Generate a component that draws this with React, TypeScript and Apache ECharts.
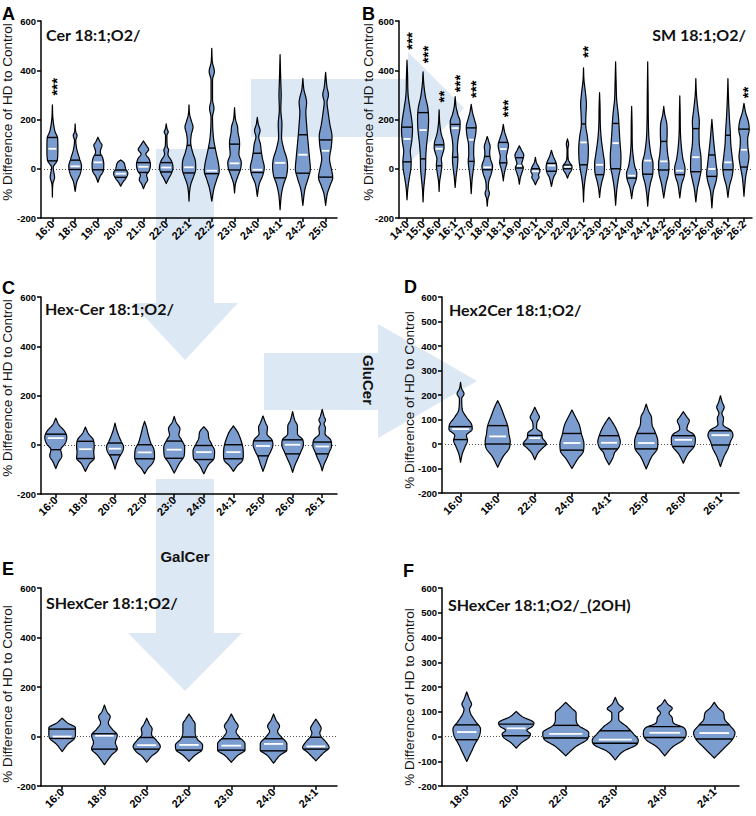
import React, { useEffect, useRef } from 'react';
import * as echarts from 'echarts';

type Violin = { span: number; q1: number | null; med: number; q3: number | null; shape: number[][] };
type Star = [string, string, number];

// ---------- Panel A: Cer 18:1;O2/ ----------
const cerCats = ['16:0', '18:0', '19:0', '20:0', '21:0', '22:0', '22:1', '22:2', '23:0', '24:0', '24:1', '24:2', '25:0'];
const cerViolins: Violin[] = [
  { span: 0.73, q1: 32, med: 81, q3: 127, shape: [[259, 0], [200, 0.12], [150, 0.5], [125, 0.95], [80, 1], [35, 0.9], [5, 0.15], [-35, 0.4], [-60, 0.1], [-115, 0]] },
  { span: 0.85, q1: -3, med: 10, q3: 35, shape: [[182, 0], [150, 0.1], [135, 0.3], [115, 0.1], [80, 0.25], [40, 0.7], [10, 1], [-20, 0.8], [-50, 0.3], [-92, 0]] },
  { span: 0.78, q1: -4, med: 26, q3: 55, shape: [[128, 0], [110, 0.35], [95, 0.7], [80, 0.5], [68, 0.4], [45, 0.8], [20, 1], [-10, 0.9], [-30, 0.4], [-55, 0]] },
  { span: 0.95, q1: -35, med: -20, q3: -5, shape: [[36, 0], [25, 0.45], [12, 0.6], [0, 0.7], [-18, 1], [-40, 0.7], [-55, 0.3], [-71, 0]] },
  { span: 0.93, q1: -15, med: 8, q3: 25, shape: [[113, 0], [95, 0.4], [78, 0.75], [60, 0.35], [40, 0.8], [15, 1], [-10, 0.8], [-25, 0.45], [-45, 0.6], [-60, 0.3], [-81, 0]] },
  { span: 0.9, q1: -13, med: 5, q3: 25, shape: [[182, 0], [160, 0.15], [150, 0.3], [135, 0.1], [90, 0.15], [77, 0.35], [60, 0.25], [30, 0.8], [5, 1], [-20, 0.75], [-40, 0.35], [-60, 0]] },
  { span: 0.9, q1: -17, med: 6, q3: 95, shape: [[259, 0], [220, 0.1], [190, 0.4], [170, 0.6], [140, 0.35], [110, 0.25], [70, 0.5], [30, 0.95], [0, 1], [-30, 0.7], [-60, 0.3], [-90, 0.1], [-132, 0]] },
  { span: 1, q1: -20, med: -8, q3: 84, shape: [[489, 0], [430, 0.1], [395, 0.35], [360, 0.1], [280, 0.1], [245, 0.3], [210, 0.1], [120, 0.25], [70, 0.55], [20, 0.9], [-10, 1], [-40, 0.7], [-80, 0.3], [-132, 0]] },
  { span: 0.9, q1: -5, med: 22, q3: 100, shape: [[248, 0], [200, 0.15], [170, 0.45], [150, 0.5], [120, 0.7], [100, 0.75], [60, 0.65], [25, 1], [0, 0.9], [-30, 0.5], [-60, 0.15], [-98, 0]] },
  { span: 0.93, q1: -15, med: -4, q3: 63, shape: [[209, 0], [180, 0.15], [155, 0.4], [130, 0.2], [100, 0.45], [75, 0.55], [40, 0.75], [5, 1], [-25, 0.8], [-60, 0.3], [-112, 0]] },
  { span: 1, q1: -37, med: 24, q3: null, shape: [[464, 0], [350, 0.1], [300, 0.15], [240, 0.1], [180, 0.25], [130, 0.2], [80, 0.5], [40, 0.9], [10, 1], [-30, 0.85], [-60, 0.5], [-100, 0.2], [-166, 0]] },
  { span: 1, q1: -18, med: 57, q3: 138, shape: [[367, 0], [320, 0.15], [290, 0.4], [270, 0.5], [230, 0.4], [180, 0.5], [140, 0.6], [90, 0.75], [40, 0.9], [0, 1], [-40, 0.7], [-80, 0.3], [-149, 0]] },
  { span: 0.95, q1: -34, med: 73, q3: 117, shape: [[391, 0], [330, 0.2], [300, 0.4], [270, 0.2], [230, 0.35], [180, 0.6], [130, 0.9], [90, 0.8], [40, 0.55], [0, 0.8], [-35, 1], [-70, 0.6], [-100, 0.25], [-149, 0]] },
];
const cerStars: Star[] = [['16:0', '***', 333]];

// ---------- Panel B: SM 18:1;O2/ ----------
const smCats = ['14:0', '15:0', '16:0', '16:1', '17:0', '18:0', '18:1', '19:0', '20:1', '21:0', '22:0', '22:1', '23:0', '23:1', '24:0', '24:1', '24:2', '25:0', '25:1', '26:0', '26:1', '26:2'];
const smViolins: Violin[] = [
  { span: 1, q1: 28, med: 121, q3: 169, shape: [[441, 0], [380, 0.1], [300, 0.2], [250, 0.5], [200, 0.85], [160, 1], [110, 0.85], [70, 0.6], [30, 0.75], [0, 0.7], [-40, 0.4], [-80, 0.15], [-126, 0]] },
  { span: 1, q1: 40, med: 157, q3: 228, shape: [[394, 0], [340, 0.15], [290, 0.45], [250, 0.85], [200, 1], [150, 0.9], [100, 0.65], [50, 0.5], [0, 0.45], [-40, 0.3], [-80, 0.12], [-135, 0]] },
  { span: 0.9, q1: 12, med: 81, q3: 97, shape: [[239, 0], [180, 0.15], [140, 0.45], [110, 0.9], [85, 1], [60, 0.7], [40, 0.45], [15, 0.55], [-20, 0.35], [-50, 0.12], [-92, 0]] },
  { span: 0.9, q1: 47, med: 165, q3: 180, shape: [[293, 0], [250, 0.2], [220, 0.55], [190, 1], [160, 0.95], [120, 0.6], [80, 0.45], [45, 0.55], [10, 0.45], [-30, 0.2], [-76, 0]] },
  { span: 0.9, q1: 30, med: 118, q3: 166, shape: [[262, 0], [230, 0.25], [200, 0.65], [170, 1], [140, 0.9], [100, 0.55], [60, 0.5], [30, 0.6], [0, 0.45], [-40, 0.2], [-101, 0]] },
  { span: 0.97, q1: -4, med: 6, q3: 50, shape: [[131, 0], [110, 0.3], [90, 0.55], [65, 0.45], [40, 0.6], [10, 1], [-20, 0.75], [-50, 0.3], [-80, 0.2], [-100, 0.4], [-120, 0.15], [-152, 0]] },
  { span: 0.94, q1: 24, med: 80, q3: 107, shape: [[180, 0], [150, 0.25], [120, 0.7], [95, 1], [70, 0.8], [50, 0.6], [25, 0.7], [0, 0.4], [-25, 0.15], [-49, 0]] },
  { span: 0.8, q1: 3, med: 12, q3: 45, shape: [[93, 0], [75, 0.5], [55, 1], [35, 0.75], [20, 0.55], [5, 0.9], [-15, 0.6], [-35, 0.25], [-63, 0]] },
  { span: 0.82, q1: null, med: -10, q3: 0, shape: [[46, 0], [25, 0.25], [5, 0.8], [-10, 1], [-25, 0.7], [-35, 0.8], [-45, 0.5], [-65, 0]] },
  { span: 0.97, q1: -10, med: 13, q3: 22, shape: [[75, 0], [50, 0.35], [25, 0.85], [5, 1], [-15, 0.85], [-35, 0.4], [-72, 0]] },
  { span: 0.82, q1: 0, med: 8, q3: 15, shape: [[121, 0], [100, 0.25], [80, 0.1], [40, 0.15], [25, 0.5], [10, 1], [-5, 0.9], [-20, 0.4], [-38, 0]] },
  { span: 0.88, q1: 16, med: 107, q3: 182, shape: [[410, 0], [360, 0.1], [300, 0.45], [260, 0.6], [220, 0.5], [180, 0.45], [130, 0.8], [80, 1], [30, 0.9], [0, 0.7], [-40, 0.35], [-80, 0.12], [-135, 0]] },
  { span: 0.9, q1: -24, med: 16, q3: null, shape: [[309, 0], [250, 0.1], [180, 0.15], [120, 0.35], [60, 0.75], [20, 1], [-20, 0.9], [-50, 0.5], [-80, 0.2], [-116, 0]] },
  { span: 0.97, q1: 0, med: 104, q3: 184, shape: [[434, 0], [350, 0.1], [280, 0.2], [230, 0.45], [190, 0.6], [150, 0.7], [100, 0.85], [50, 1], [10, 0.95], [-30, 0.6], [-80, 0.25], [-148, 0]] },
  { span: 0.94, q1: -38, med: -28, q3: null, shape: [[253, 0], [180, 0.08], [100, 0.12], [50, 0.3], [10, 0.6], [-20, 1], [-45, 0.85], [-75, 0.35], [-121, 0]] },
  { span: 0.97, q1: -22, med: 33, q3: null, shape: [[434, 0], [300, 0.08], [200, 0.12], [120, 0.25], [60, 0.6], [20, 1], [-20, 0.95], [-60, 0.5], [-100, 0.2], [-152, 0]] },
  { span: 0.95, q1: -5, med: 30, q3: 111, shape: [[253, 0], [220, 0.2], [180, 0.6], [140, 0.65], [110, 0.6], [60, 0.75], [20, 1], [-20, 0.9], [-60, 0.45], [-118, 0]] },
  { span: 0.95, q1: -24, med: -8, q3: null, shape: [[296, 0], [220, 0.08], [150, 0.12], [90, 0.3], [40, 0.6], [0, 1], [-30, 0.85], [-60, 0.4], [-118, 0]] },
  { span: 0.97, q1: -12, med: 47, q3: 163, shape: [[366, 0], [300, 0.12], [240, 0.4], [190, 0.65], [150, 0.6], [100, 0.65], [50, 0.95], [0, 1], [-40, 0.7], [-80, 0.3], [-135, 0]] },
  { span: 0.95, q1: -31, med: -1, q3: 56, shape: [[201, 0], [160, 0.15], [110, 0.35], [60, 0.6], [20, 0.8], [-20, 1], [-50, 0.8], [-90, 0.3], [-159, 0]] },
  { span: 0.95, q1: -4, med: 26, q3: 136, shape: [[366, 0], [280, 0.12], [200, 0.3], [150, 0.45], [100, 0.55], [50, 0.8], [10, 1], [-30, 0.8], [-70, 0.3], [-116, 0]] },
  { span: 0.95, q1: 7, med: 77, q3: 161, shape: [[266, 0], [230, 0.3], [190, 0.85], [160, 1], [120, 0.7], [90, 0.75], [50, 0.95], [10, 0.7], [-30, 0.35], [-70, 0.15], [-112, 0]] },
];
const smStars: Star[] = [['14:0', '***', 519], ['15:0', '***', 464], ['16:0', '**', 293], ['16:1', '***', 346], ['17:0', '***', 323], ['18:1', '***', 245], ['22:1', '**', 475], ['26:2', '**', 310]];

// ---------- Panel C: Hex-Cer 18:1;O2/ ----------
const hexCats = ['16:0', '18:0', '20:0', '22:0', '23:0', '24:0', '24:1', '25:0', '26:0', '26:1'];
const hexViolins: Violin[] = [
  { span: 1, q1: -20, med: 27, q3: 43, shape: [[108, 0], [80, 0.3], [55, 0.8], [30, 1], [5, 0.85], [-20, 0.45], [-45, 0.55], [-70, 0.25], [-97, 0]] },
  { span: 0.8, q1: -56, med: -18, q3: 14, shape: [[72, 0], [45, 0.35], [20, 0.9], [-10, 1], [-30, 0.95], [-55, 1], [-75, 0.5], [-108, 0]] },
  { span: 0.78, q1: -41, med: -16, q3: 7, shape: [[88, 0], [60, 0.2], [40, 0.4], [15, 0.7], [-10, 1], [-30, 0.85], [-50, 0.5], [-75, 0.2], [-99, 0]] },
  { span: 0.9, q1: -57, med: -31, q3: 0, shape: [[95, 0], [70, 0.2], [45, 0.35], [10, 0.6], [-20, 0.95], [-50, 1], [-75, 0.8], [-95, 0.35], [-118, 0]] },
  { span: 0.95, q1: -55, med: -20, q3: 15, shape: [[115, 0], [90, 0.2], [65, 0.55], [40, 0.45], [20, 0.7], [-10, 1], [-45, 0.95], [-75, 0.5], [-115, 0]] },
  { span: 0.98, q1: -60, med: -30, q3: -3, shape: [[74, 0], [50, 0.4], [30, 0.45], [0, 0.75], [-25, 1], [-55, 0.95], [-80, 0.45], [-118, 0]] },
  { span: 0.9, q1: -57, med: -30, q3: 0, shape: [[77, 0], [50, 0.45], [20, 0.75], [-10, 0.95], [-40, 1], [-65, 0.9], [-85, 0.4], [-108, 0]] },
  { span: 0.9, q1: -45, med: -5, q3: 16, shape: [[117, 0], [90, 0.25], [70, 0.45], [45, 0.4], [20, 0.9], [0, 1], [-25, 0.8], [-50, 0.5], [-80, 0.25], [-108, 0]] },
  { span: 0.98, q1: -37, med: 0, q3: 20, shape: [[135, 0], [100, 0.2], [75, 0.45], [45, 0.45], [20, 0.95], [0, 1], [-30, 0.75], [-60, 0.45], [-85, 0.2], [-112, 0]] },
  { span: 0.85, q1: -37, med: -7, q3: 11, shape: [[144, 0], [115, 0.2], [100, 0.35], [85, 0.2], [68, 0.35], [45, 0.3], [20, 0.9], [-5, 1], [-30, 0.75], [-55, 0.5], [-80, 0.2], [-106, 0]] },
];
const hexStars: Star[] = [];

// ---------- Panel D: Hex2Cer 18:1;O2/ ----------
const hex2Cats = ['16:0', '18:0', '22:0', '24:0', '24:1', '25:0', '26:0', '26:1'];
const hex2Violins: Violin[] = [
  { span: 0.93, q1: 18, med: 61, q3: 71, shape: [[252, 0], [225, 0.1], [205, 0.3], [185, 0.1], [140, 0.15], [110, 0.5], [80, 0.95], [60, 1], [35, 0.5], [15, 0.6], [-10, 0.4], [-40, 0.15], [-75, 0]] },
  { span: 1, q1: 0, med: 31, q3: 75, shape: [[177, 0], [150, 0.25], [110, 0.55], [75, 0.8], [40, 0.9], [10, 1], [-20, 0.9], [-50, 0.45], [-95, 0]] },
  { span: 0.93, q1: 0, med: 24, q3: 35, shape: [[150, 0], [125, 0.25], [110, 0.4], [90, 0.2], [65, 0.15], [45, 0.6], [25, 0.65], [10, 0.9], [0, 1], [-15, 0.7], [-35, 0.3], [-64, 0]] },
  { span: 0.96, q1: -25, med: 4, q3: 43, shape: [[139, 0], [110, 0.3], [80, 0.6], [40, 0.8], [0, 1], [-30, 0.95], [-60, 0.5], [-100, 0]] },
  { span: 0.9, q1: -20, med: 5, q3: 34, shape: [[109, 0], [85, 0.35], [60, 0.65], [30, 0.9], [10, 1], [-15, 0.85], [-35, 0.5], [-55, 0.35], [-85, 0]] },
  { span: 0.93, q1: -20, med: 4, q3: 43, shape: [[163, 0], [135, 0.2], [110, 0.45], [80, 0.5], [45, 0.8], [10, 1], [-20, 0.95], [-50, 0.5], [-102, 0]] },
  { span: 0.96, q1: -10, med: 17, q3: 34, shape: [[132, 0], [110, 0.3], [95, 0.5], [75, 0.35], [60, 0.3], [40, 0.85], [20, 1], [-10, 0.9], [-40, 0.4], [-78, 0]] },
  { span: 1, q1: -4, med: 36, q3: 54, shape: [[197, 0], [170, 0.15], [150, 0.3], [125, 0.12], [105, 0.25], [80, 0.2], [55, 0.85], [35, 1], [10, 0.8], [-20, 0.6], [-50, 0.3], [-92, 0]] },
];
const hex2Stars: Star[] = [];

// ---------- Panel E: SHexCer 18:1;O2/ ----------
const shexCats = ['16:0', '18:0', '20:0', '22:0', '23:0', '24:0', '24:1'];
const shexViolins: Violin[] = [
  { span: 0.95, q1: -8, med: 0, q3: 30, shape: [[74, 0], [55, 0.4], [35, 1], [10, 1], [-10, 0.9], [-30, 0.45], [-61, 0]] },
  { span: 0.92, q1: -51, med: 3, q3: 11, shape: [[127, 0], [100, 0.2], [80, 0.45], [55, 0.3], [30, 0.6], [5, 1], [-25, 0.85], [-50, 1], [-75, 0.55], [-114, 0]] },
  { span: 0.97, q1: -51, med: -35, q3: -4, shape: [[74, 0], [50, 0.2], [30, 0.4], [10, 0.35], [-15, 0.7], [-40, 1], [-60, 0.8], [-80, 0.35], [-104, 0]] },
  { span: 0.97, q1: -55, med: -34, q3: -2, shape: [[91, 0], [70, 0.25], [50, 0.45], [20, 0.45], [-10, 0.6], [-35, 1], [-55, 0.95], [-75, 0.45], [-100, 0]] },
  { span: 0.98, q1: -55, med: -37, q3: -9, shape: [[91, 0], [65, 0.25], [42, 0.5], [20, 0.35], [0, 0.55], [-30, 1], [-55, 1], [-75, 0.5], [-104, 0]] },
  { span: 0.95, q1: -58, med: -30, q3: -9, shape: [[91, 0], [65, 0.2], [42, 0.45], [20, 0.3], [0, 0.55], [-30, 1], [-55, 1], [-75, 0.5], [-108, 0]] },
  { span: 0.95, q1: -51, med: -40, q3: -3, shape: [[70, 0], [50, 0.25], [32, 0.4], [15, 0.3], [0, 0.4], [-25, 0.8], [-45, 1], [-65, 0.6], [-98, 0]] },
];
const shexStars: Star[] = [];

// ---------- Panel F: SHexCer 18:1;O2/_(2OH) ----------
const shexOHCats = ['18:0', '20:0', '22:0', '23:0', '24:0', '24:1'];
const shexOHViolins: Violin[] = [
  { span: 0.6, q1: -13, med: 18, q3: 47, shape: [[180, 0], [150, 0.2], [130, 0.35], [110, 0.2], [90, 0.3], [60, 0.65], [30, 1], [0, 0.9], [-30, 0.6], [-60, 0.35], [-101, 0]] },
  { span: 0.77, q1: 3, med: 33, q3: 50, shape: [[101, 0], [80, 0.35], [55, 1], [40, 0.9], [25, 0.6], [10, 0.8], [-5, 0.7], [-25, 0.3], [-47, 0]] },
  { span: 1, q1: -6, med: 11, q3: 45, shape: [[138, 0], [115, 0.25], [95, 0.45], [70, 0.45], [45, 0.55], [15, 1], [-10, 0.95], [-40, 0.45], [-78, 0]] },
  { span: 1, q1: -27, med: -13, q3: 23, shape: [[158, 0], [130, 0.15], [112, 0.35], [95, 0.15], [70, 0.15], [40, 0.5], [10, 0.8], [-15, 1], [-35, 0.9], [-60, 0.35], [-94, 0]] },
  { span: 0.93, q1: -4, med: 15, q3: 40, shape: [[149, 0], [130, 0.15], [114, 0.35], [95, 0.2], [75, 0.35], [55, 0.4], [35, 0.9], [10, 1], [-15, 0.85], [-40, 0.4], [-78, 0]] },
  { span: 0.9, q1: -10, med: 14, q3: 47, shape: [[138, 0], [115, 0.2], [95, 0.45], [70, 0.5], [45, 0.75], [15, 1], [-15, 0.85], [-45, 0.5], [-87, 0]] },
];
const shexOHStars: Star[] = [];

const yTitle = '% Difference of HD to Control';

// ---------- layout / style ----------
const SANS = "'Liberation Sans', Arial, Helvetica, sans-serif";
const TITLE_FONT = "Lato, 'Open Sans', sans-serif";
const FILL = '#7b9cce';
const ARROW = '#dde8f5';

const panels = [
  { cats: cerCats, violins: cerViolins, stars: cerStars, grid: { left: 41, top: 21, width: 296, height: 197 }, interval: 200, half: 7.5,
    letter: 'A', lx: 2, ly: 14, title: 'Cer 18:1;O2/', tx: 46, ty: 34, talign: 'left', nx: 7, ny: 112 },
  { cats: smCats, violins: smViolins, stars: smStars, grid: { left: 399, top: 21, width: 353, height: 197 }, interval: 200, half: 5.5,
    letter: 'B', lx: 362, ly: 14, title: 'SM 18:1;O2/', tx: 746, ty: 34, talign: 'right', nx: 368, ny: 112 },
  { cats: hexCats, violins: hexViolins, stars: hexStars, grid: { left: 41, top: 297, width: 296, height: 197 }, interval: 200, half: 11,
    letter: 'C', lx: 2, ly: 288, title: 'Hex-Cer 18:1;O2/', tx: 45, ty: 308, talign: 'left', nx: 7, ny: 388 },
  { cats: hex2Cats, violins: hex2Violins, stars: hex2Stars, grid: { left: 442, top: 297, width: 297, height: 196 }, interval: 100, half: 12.5,
    letter: 'D', lx: 404, ly: 287, title: 'Hex2Cer 18:1;O2/', tx: 449, ty: 309, talign: 'left', nx: 409.5, ny: 400 },
  { cats: shexCats, violins: shexViolins, stars: shexStars, grid: { left: 41, top: 588, width: 296, height: 198 }, interval: 200, half: 14,
    letter: 'E', lx: 2, ly: 569, title: 'SHexCer 18:1;O2/', tx: 46, ty: 602, talign: 'left', nx: 7, ny: 694 },
  { cats: shexOHCats, violins: shexOHViolins, stars: shexOHStars, grid: { left: 442, top: 588, width: 297, height: 198 }, interval: 100, half: 23,
    letter: 'F', lx: 403, ly: 571, title: 'SHexCer 18:1;O2/_(2OH)', tx: 448, ty: 604, talign: 'left', nx: 409.5, ny: 697 },
];

function monotone(shape: number[][]) {
  const pts = shape.slice().sort((a, b) => a[0] - b[0]);
  const xs = pts.map(p => p[0]);
  const ys = pts.map(p => p[1]);
  const n = xs.length;
  const d: number[] = [];
  for (let i = 0; i < n - 1; i++) d.push((ys[i + 1] - ys[i]) / (xs[i + 1] - xs[i]));
  const m: number[] = new Array(n).fill(0);
  m[0] = d[0];
  m[n - 1] = d[n - 2];
  for (let i = 1; i < n - 1; i++) m[i] = d[i - 1] * d[i] <= 0 ? 0 : (d[i - 1] + d[i]) / 2;
  for (let i = 0; i < n - 1; i++) {
    if (d[i] === 0) { m[i] = 0; m[i + 1] = 0; continue; }
    const a = m[i] / d[i], b = m[i + 1] / d[i];
    const s = a * a + b * b;
    if (s > 9) { const t = 3 / Math.sqrt(s); m[i] = t * a * d[i]; m[i + 1] = t * b * d[i]; }
  }
  const f = (x: number) => {
    if (x <= xs[0]) return ys[0];
    if (x >= xs[n - 1]) return ys[n - 1];
    let i = 0;
    while (i < n - 2 && x > xs[i + 1]) i++;
    const h = xs[i + 1] - xs[i];
    const t = (x - xs[i]) / h;
    const t2 = t * t, t3 = t2 * t;
    return (2 * t3 - 3 * t2 + 1) * ys[i] + (t3 - 2 * t2 + t) * h * m[i] + (-2 * t3 + 3 * t2) * ys[i + 1] + (t3 - t2) * h * m[i + 1];
  };
  return { f, lo: xs[0], hi: xs[n - 1] };
}

function buildOption() {
  const series = panels.map((p, pi) => {
    const interps = p.violins.map(v => monotone(v.shape));
    return {
      type: 'custom',
      xAxisIndex: pi,
      yAxisIndex: pi,
      z: 3,
      clip: false,
      data: p.cats.map((_, j) => [j, p.violins[j].med]),
      encode: { x: 0, y: 1 },
      renderItem: (params: any, api: any) => {
        const j = params.dataIndex;
        const v = p.violins[j];
        const ip = interps[j];
        const cx = api.coord([j, 0])[0];
        const yOf = (val: number) => api.coord([j, val])[1];
        const half = p.half * v.span;
        const N = 90;
        const right: number[][] = [];
        const left: number[][] = [];
        for (let k = 0; k <= N; k++) {
          const val = ip.hi - ((ip.hi - ip.lo) * k) / N;
          const w = Math.max(0, ip.f(val)) * half;
          right.push([cx + w, yOf(val)]);
          left.push([cx - w, yOf(val)]);
        }
        const points = right.concat(left.reverse());
        const children: any[] = [
          { type: 'polygon', shape: { points }, style: { fill: FILL, stroke: '#000', lineWidth: 1.2, lineJoin: 'round' } },
        ];
        [v.q1, v.q3].forEach(q => {
          if (q == null) return;
          const w = Math.max(0, ip.f(q)) * half;
          children.push({ type: 'line', shape: { x1: cx - w, y1: yOf(q), x2: cx + w, y2: yOf(q) }, style: { stroke: '#000', lineWidth: 1.4 } });
        });
        const wm = Math.max(0, ip.f(v.med)) * half * 0.72;
        children.push({ type: 'line', shape: { x1: cx - wm, y1: yOf(v.med), x2: cx + wm, y2: yOf(v.med) }, style: { stroke: '#fff', lineWidth: 1.8 } });
        p.stars.forEach(s => {
          if (s[0] !== p.cats[j]) return;
          children.push({
            type: 'text',
            x: cx + 4,
            y: yOf(s[2]),
            rotation: Math.PI / 2,
            style: { text: s[1], fill: '#000', font: `bold 15px ${SANS}`, align: 'center', verticalAlign: 'middle' },
          });
        });
        return { type: 'group', children };
      },
      markLine: {
        silent: true,
        z: 1,
        symbol: ['none', 'none'],
        label: { show: false },
        lineStyle: { color: '#555', width: 1, type: [1, 2] },
        data: [{ yAxis: 0 }],
      },
    };
  });

  const arrows = [
    [[251, 79], [408, 79], [408, 52], [464, 108], [408, 164], [408, 137], [251, 137]],
    [[156, 149], [214, 149], [214, 303], [238, 303], [185, 360], [132, 303], [156, 303]],
    [[264, 353], [378, 353], [378, 324], [477, 381], [378, 438], [378, 410], [264, 410]],
    [[156, 479], [214, 479], [214, 633], [242, 633], [185, 691], [128, 633], [156, 633]],
  ];

  const graphic: any[] = arrows.map(pts => ({ type: 'polygon', z: -5, shape: { points: pts }, style: { fill: ARROW }, silent: true }));
  panels.forEach(p => {
    graphic.push({ type: 'text', z: 10, x: p.lx, y: p.ly, style: { text: p.letter, font: `bold 18px ${SANS}`, fill: '#000', align: 'left', verticalAlign: 'middle' } });
    graphic.push({ type: 'text', z: 10, x: p.tx, y: p.ty, style: { text: p.title, font: `bold 16px ${TITLE_FONT}`, fill: '#111', align: p.talign, verticalAlign: 'middle' } });
    graphic.push({ type: 'text', z: 10, x: p.nx, y: p.ny, rotation: Math.PI / 2, style: { text: yTitle, font: `13.5px ${SANS}`, fill: '#111', align: 'center', verticalAlign: 'middle' } });
  });
  graphic.push({ type: 'text', z: 10, x: 368, y: 380, rotation: -Math.PI / 2, style: { text: 'GluCer', font: `bold 15px ${SANS}`, fill: '#111', align: 'center', verticalAlign: 'middle' } });
  graphic.push({ type: 'text', z: 10, x: 185, y: 556, style: { text: 'GalCer', font: `bold 15px ${SANS}`, fill: '#111', align: 'center', verticalAlign: 'middle' } });

  return {
    animation: false,
    backgroundColor: '#fff',
    grid: panels.map(p => ({ ...p.grid, containLabel: false })),
    xAxis: panels.map((p, i) => ({
      type: 'category',
      gridIndex: i,
      data: p.cats,
      axisLine: { show: true, onZero: false, lineStyle: { color: '#000', width: 1.5 } },
      axisTick: { show: true, alignWithLabel: true, length: 4, lineStyle: { color: '#000', width: 1.5 } },
      axisLabel: { rotate: 45, interval: 0, fontSize: 11, fontWeight: 'bold', color: '#000', margin: 4, fontFamily: SANS },
      splitLine: { show: false },
    })),
    yAxis: panels.map((p, i) => ({
      type: 'value',
      gridIndex: i,
      min: -200,
      max: 600,
      interval: p.interval,
      axisLine: { show: true, lineStyle: { color: '#000', width: 1.5 } },
      axisTick: { show: true, length: 4, lineStyle: { color: '#000', width: 1.5 } },
      axisLabel: { fontSize: 9.5, fontWeight: 'bold', color: '#000', margin: 5, fontFamily: SANS },
      splitLine: { show: false },
    })),
    series,
    graphic: { elements: graphic },
  };
}

export default function App() {
  const ref = useRef<HTMLDivElement>(null);
  useEffect(() => {
    if (!ref.current) return;
    const chart = echarts.init(ref.current, undefined, { renderer: 'svg' });
    chart.setOption(buildOption() as any);
    return () => chart.dispose();
  }, []);
  return <div ref={ref} style={{ position: 'fixed', left: 0, top: 0, width: 756, height: 816, background: '#fff' }} />;
}
